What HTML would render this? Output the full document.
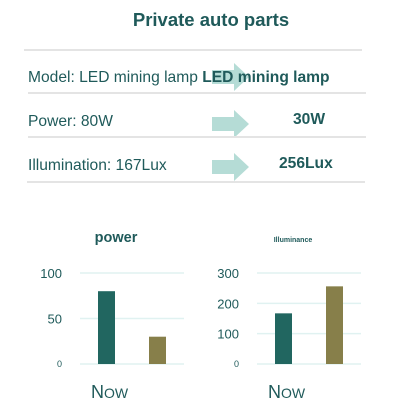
<!DOCTYPE html>
<html><head><meta charset="utf-8"><style>
body{margin:0;width:403px;height:419px;background:#fff;font-family:"Liberation Sans",sans-serif;color:#1f5a5a;position:relative;overflow:hidden}
.a{position:absolute;white-space:nowrap}
.ln{position:absolute;height:2px;background:#e4e4e4}
.arr{position:absolute;width:37px;height:28px}
</style></head><body>
<div class="a" style="left:0;width:422px;text-align:center;top:9px;font-size:18.5px;font-weight:bold">Private auto parts</div>
<div class="ln" style="left:24px;width:338px;top:49px"></div>
<svg class="arr" style="left:212px;top:63px" viewBox="0 0 37 28"><polygon points="0,7 22,7 22,0 37,14 22,28 22,21 0,21" fill="#b5dcd6"/></svg>
<div class="a" style="left:28px;top:69px;font-size:15.6px">Model: LED mining lamp <b>LED mining lamp</b></div>
<div class="ln" style="left:28px;width:338px;top:92px"></div>
<div class="a" style="left:28px;top:113px;font-size:15.6px">Power: 80W</div>
<svg class="arr" style="left:212px;top:110px" viewBox="0 0 37 28"><polygon points="0,7 22,7 22,0 37,14 22,28 22,21 0,21" fill="#b5dcd6"/></svg>
<div class="a" style="left:293px;top:111px;font-size:15.6px;font-weight:bold">30W</div>
<div class="ln" style="left:28px;width:338px;top:136px"></div>
<div class="a" style="left:28px;top:157px;font-size:15.6px">Illumination: 167Lux</div>
<svg class="arr" style="left:212px;top:153px" viewBox="0 0 37 28"><polygon points="0,7 22,7 22,0 37,14 22,28 22,21 0,21" fill="#b5dcd6"/></svg>
<div class="a" style="left:279px;top:155px;font-size:15.6px;font-weight:bold">256Lux</div>
<div class="ln" style="left:27px;width:338px;top:181px"></div>
<svg id="c" width="403" height="419" style="position:absolute;left:0;top:0"></svg>
<script>
const powerValues=[80,30];
const powerTicks=[0,50,100];
const illumValues=[167,256];
const illumTicks=[0,100,200,300];
const colors=['#216660','#877f4a'];
const svg=document.getElementById('c');
const NS='http://www.w3.org/2000/svg';
function mk(t,a,txt){const e=document.createElementNS(NS,t);for(const k in a)e.setAttribute(k,a[k]);if(txt!=null)e.textContent=txt;svg.appendChild(e);return e;}
function chart(x0,title,tsize,ticks,vals,max,name){
  const y0=364,h=91,w=104;
  const y=v=>y0-v/max*h;
  let t=mk('text',{x:x0+36,y:242,'font-size':tsize,'font-weight':'bold',fill:'#1f5a5a','text-anchor':'middle'},title);
  
  
  ticks.forEach(v=>{
    let g=mk('line',{x1:x0,x2:x0+w,y1:y(v),y2:y(v),stroke:'#e0f2f1','stroke-width':1.5});
    
    
    let l=mk('text',{x:x0-18,y:y(v)+(v===0?3:5),'font-size':v===0?9:13,fill:'#1f5a5a','text-anchor':'end'},String(v));
    
    
  });
  vals.forEach((v,i)=>{
    let b=mk('rect',{x:x0+18+i*51,y:y(v),width:17,height:y0-y(v),fill:colors[i]});
    
    
  });
  let n=mk('text',{x:x0+11,y:398,'font-size':18,fill:'#1f5a5a'});
  
  
  n.innerHTML='N<tspan font-size="14">OW</tspan>';
}
chart(80,'power',14.5,powerTicks,powerValues,100,'power-chart');
chart(257,'Illuminance',7,illumTicks,illumValues,300,'illuminance-chart');
</script>
</body></html>
